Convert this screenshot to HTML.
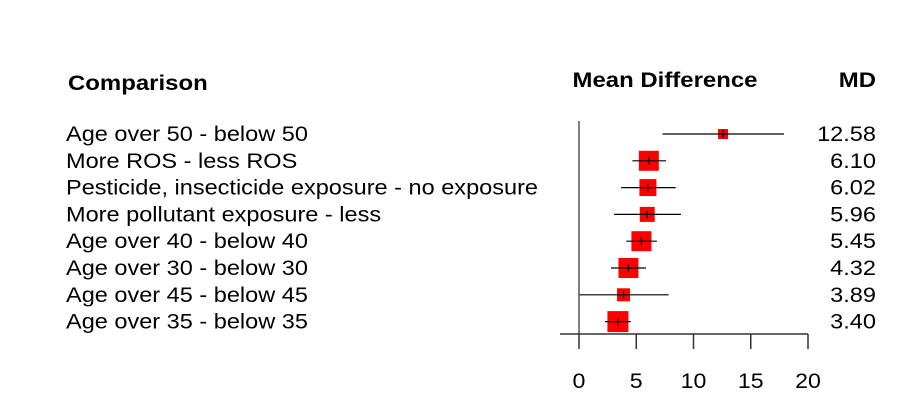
<!DOCTYPE html>
<html><head><meta charset="utf-8"><style>
html,body{margin:0;padding:0;background:#fff;}
svg{display:block;font-family:"Liberation Sans",Arial,sans-serif;}
</style></head><body>
<svg id="chart" width="916" height="413" viewBox="0 0 916 413" xmlns="http://www.w3.org/2000/svg">
<text class="st" x="68" y="90" font-size="21" font-weight="bold">Comparison</text>
<text class="st" x="665" y="87" font-size="21" font-weight="bold" text-anchor="middle">Mean Difference</text>
<text class="st" x="876" y="87" font-size="21" font-weight="bold" text-anchor="end">MD</text>
<g id="rows"></g>
<g id="axis"></g>
</svg>
<script>
const labels = ["Age over 50 - below 50","More ROS - less ROS","Pesticide, insecticide exposure - no exposure","More pollutant exposure - less","Age over 40 - below 40","Age over 30 - below 30","Age over 45 - below 45","Age over 35 - below 35"];
const md = [12.58,6.10,6.02,5.96,5.45,4.32,3.89,3.40];
const lower = [7.3,4.66,3.67,3.06,4.13,2.8,0,2.27];
const upper = [17.9,7.6,8.44,8.9,6.8,5.85,7.83,4.52];
const weights = [10,20,17,15,20,20,13,21];
const ticks = [0,5,10,15,20];

const NS="http://www.w3.org/2000/svg";
const xs = v => 579 + v*11.45;
const ys = i => 134 + i*26.8;
function mk(tag, attrs, parent){const e=document.createElementNS(NS,tag);for(const k in attrs)e.setAttribute(k,attrs[k]);parent.appendChild(e);return e;}
function stretch(t,f){const w=t.getComputedTextLength();t.setAttribute('textLength',(w*f).toFixed(1));t.setAttribute('lengthAdjust','spacingAndGlyphs');}
const rows=document.getElementById('rows'), axis=document.getElementById('axis');
const zl=mk('line',{x1:579,y1:121,x2:579,y2:334,stroke:'#555','stroke-width':1.5},axis);


labels.forEach((lab,i)=>{
  const y=ys(i);
  const t=mk('text',{x:66,y:y+7,'font-size':21},rows); t.textContent=lab;
  
  
  stretch(t,1.12);
  const v=mk('text',{x:876,y:y+7,'font-size':21,'text-anchor':'end'},rows); v.textContent=md[i].toFixed(2);
  
  
  stretch(v,1.12);
  const s=weights[i];
  const b=mk('rect',{x:xs(md[i])-s/2,y:y-s/2,width:s,height:s,fill:'#f00'},rows);
  
  
  const l=mk('line',{x1:xs(lower[i]),y1:y,x2:xs(upper[i]),y2:y,stroke:'#000','stroke-width':1.2},rows);
  
  
  const tk=mk('line',{x1:xs(md[i]),y1:y-4,x2:xs(md[i]),y2:y+4,stroke:'#000','stroke-width':1.2},rows);
  
  
});
const ax=mk('line',{x1:560,y1:334,x2:xs(20),y2:334,stroke:'#333','stroke-width':1.5},axis);


ticks.forEach(t=>{
  const l=mk('line',{x1:xs(t),y1:334,x2:xs(t),y2:349,stroke:'#333','stroke-width':1.5},axis);
  
  
  const tx=mk('text',{x:xs(t),y:388,'font-size':21,'text-anchor':'middle'},axis); tx.textContent=t;
  
  
  stretch(tx,1.1);
});
document.querySelectorAll('.st').forEach(t=>stretch(t,1.14));
</script>
</body></html>
